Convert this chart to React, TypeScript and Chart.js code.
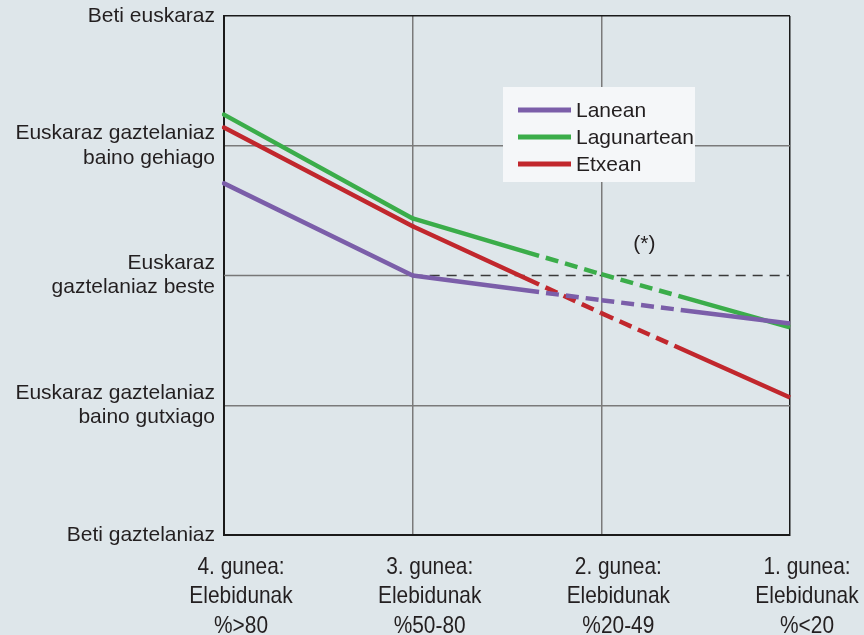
import React, { useEffect, useRef } from 'react';
import { Chart, registerables } from 'chart.js';

Chart.register(...registerables);

// ---- data ----
const categories: string[][] = [
  ['4. gunea:', 'Elebidunak', '%>80'],
  ['3. gunea:', 'Elebidunak', '%50-80'],
  ['2. gunea:', 'Elebidunak', '%20-49'],
  ['1. gunea:', 'Elebidunak', '%<20'],
];
const yTickLabels: string[][] = [
  ['Beti gaztelaniaz'],
  ['Euskaraz gaztelaniaz', 'baino gutxiago'],
  ['Euskaraz', 'gaztelaniaz beste'],
  ['Euskaraz gaztelaniaz', 'baino gehiago'],
  ['Beti euskaraz'],
];
const seriesNames = ['Lanean', 'Lagunartean', 'Etxean'];
const lanean = [2.71, 2.0, 1.81, 1.63];
const lagunartean = [3.24, 2.44, 2.01, 1.6];
const etxean = [3.14, 2.38, 1.71, 1.06];
const seriesColors = ['#7b5ea9', '#3bad4a', '#c1272d'];
const noteLabel = '(*)';

const BG = '#dee6ea';
const TEXT = '#231f20';
const DASH = 13;
const GAP = 7;

function partialDash(ctx: any) {
  const i = ctx.p0DataIndex;
  const p0 = ctx.p0;
  const p1 = ctx.p1;
  const L = Math.hypot(p1.x - p0.x, p1.y - p0.y);
  if (i === 1) {
    const solid = L * 0.67;
    const arr = [solid];
    let pos = solid;
    while (pos < L) {
      arr.push(GAP, DASH);
      pos += GAP + DASH;
    }
    return arr;
  }
  if (i === 2) {
    const arr: number[] = [];
    let pos = 0;
    const lim = L * 0.34;
    while (pos < lim) {
      arr.push(DASH, GAP);
      pos += DASH + GAP;
    }
    arr.push(L + 20, 20);
    return arr;
  }
  return undefined;
}

const overlayPlugin = {
  id: 'overlay',
  beforeDatasetsDraw(chart: any) {
    const { ctx, chartArea, scales } = chart;
    const x = scales.x;
    const y = scales.y;
    const yy = y.getPixelForValue(2);
    const xMid = x.getPixelForValue(1);
    ctx.save();
    ctx.lineWidth = 1.5;
    ctx.strokeStyle = '#777777';
    ctx.beginPath();
    ctx.moveTo(chartArea.left, yy);
    ctx.lineTo(xMid, yy);
    ctx.stroke();
    ctx.strokeStyle = '#3a3a3a';
    ctx.setLineDash([10, 7]);
    ctx.beginPath();
    ctx.moveTo(xMid, yy);
    ctx.lineTo(chartArea.right, yy);
    ctx.stroke();
    ctx.restore();
  },
  afterDatasetsDraw(chart: any) {
    const { ctx, chartArea, scales } = chart;
    const x = scales.x;
    const y = scales.y;
    ctx.save();
    // legend box
    const lx = chartArea.left + 279;
    const ly = chartArea.top + 71;
    ctx.fillStyle = '#f5f7f9';
    ctx.fillRect(lx, ly, 192, 95);
    ctx.font = "21px 'Liberation Sans', Arial, sans-serif";
    ctx.textBaseline = 'middle';
    ctx.textAlign = 'left';
    chart.data.datasets.forEach((ds: any, i: number) => {
      const ry = ly + 23 + i * 27;
      ctx.strokeStyle = ds.borderColor;
      ctx.lineWidth = 5;
      ctx.beginPath();
      ctx.moveTo(lx + 15, ry);
      ctx.lineTo(lx + 68, ry);
      ctx.stroke();
      ctx.fillStyle = TEXT;
      ctx.fillText(ds.label, lx + 73, ry + 1);
    });
    // note
    ctx.textAlign = 'center';
    ctx.fillStyle = TEXT;
    ctx.fillText(noteLabel, x.getPixelForValue(2) + 43, y.getPixelForValue(2) - 31);

    // x category labels (condensed), placed by the category scale
    ctx.font = "24px 'Liberation Sans', Arial, sans-serif";
    ctx.textAlign = 'center';
    ctx.textBaseline = 'middle';
    ctx.fillStyle = TEXT;
    const labels = chart.data.labels as string[][];
    labels.forEach((lines, i) => {
      const cx = x.getPixelForValue(i) + 17;
      lines.forEach((line, j) => {
        const cy = chartArea.bottom + 32 + j * 29.5;
        ctx.save();
        ctx.translate(cx, cy);
        ctx.scale(0.87, 1);
        ctx.fillText(line, 0, 0);
        ctx.restore();
      });
    });
    ctx.restore();
  },
};

export default function App() {
  const ref = useRef<HTMLCanvasElement | null>(null);

  useEffect(() => {
    document.body.style.margin = '0';
    document.body.style.background = BG;
    const canvas = ref.current;
    if (!canvas) return;
    const data = [lanean, lagunartean, etxean];
    const chart = new Chart(canvas, {
      type: 'line',
      data: {
        labels: categories as any,
        datasets: seriesNames.map((name, i) => ({
          label: name,
          data: data[i],
          borderColor: seriesColors[i],
          backgroundColor: seriesColors[i],
          borderWidth: 4.5,
          pointRadius: 0,
          pointHoverRadius: 0,
          tension: 0,
          segment: {
            borderDash: partialDash,
            borderCapStyle: (c: any) => (c.p0DataIndex === 0 ? 'round' : 'butt'),
          },
        })),
      },
      options: {
        animation: false,
        responsive: true,
        maintainAspectRatio: false,
        events: [],
        layout: { padding: { top: 16, right: 74, left: 0, bottom: 0 } },
        plugins: {
          legend: { display: false },
          tooltip: { enabled: false },
        },
        scales: {
          x: {
            type: 'category',
            offset: false,
            afterFit: (s: any) => {
              s.height = 100;
              s.paddingLeft = 0;
              s.paddingRight = 0;
            },
            grid: {
              drawTicks: false,
              lineWidth: 1.5,
              color: (c: any) =>
                c.index === categories.length - 1 ? '#1a1a1a' : '#7a7a7a',
            },
            border: { color: '#1a1a1a', width: 2 },
            ticks: {
              display: false,
              autoSkip: false,
              maxRotation: 0,
            },
          },
          y: {
            type: 'linear',
            min: 0,
            max: 4,
            afterFit: (s: any) => {
              s.width = 224;
              s.paddingTop = 0;
              s.paddingBottom = 0;
            },
            grid: {
              drawTicks: false,
              lineWidth: 1.5,
              color: (c: any) => {
                const v = c.tick ? c.tick.value : null;
                if (v === 4) return '#1a1a1a';
                if (v === 2) return 'rgba(0,0,0,0)';
                return '#7a7a7a';
              },
            },
            border: { color: '#1a1a1a', width: 2 },
            ticks: {
              stepSize: 1,
              padding: 9,
              color: TEXT,
              font: {
                family: "'Liberation Sans', Arial, sans-serif",
                size: 21,
                lineHeight: 1.15,
              },
              callback: (v: any) => yTickLabels[Math.round(Number(v))] as any,
            },
          },
        },
      },
      plugins: [overlayPlugin],
    });
    return () => chart.destroy();
  }, []);

  return (
    <div style={{ width: 864, height: 635, position: 'relative', background: BG }}>
      <canvas ref={ref} />
    </div>
  );
}
